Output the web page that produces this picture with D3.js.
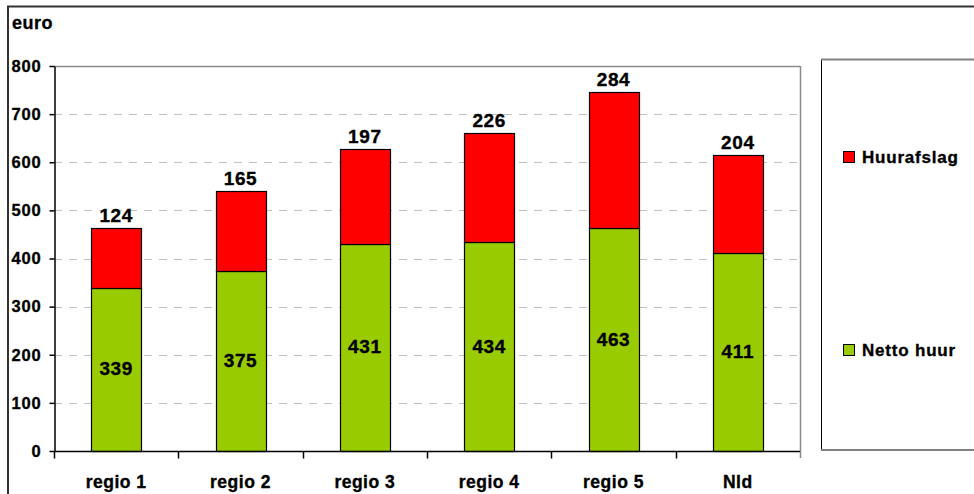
<!DOCTYPE html>
<html><head><meta charset="utf-8">
<script src="https://cdn.jsdelivr.net/npm/d3@7"></script>
<style>
body{margin:0;background:#fff;}
svg{display:block;font-family:"Liberation Sans",Arial,sans-serif;font-weight:bold;}
svg text{stroke:#000;stroke-width:0.35px;fill:#000;}
</style></head>
<body><svg id="c" width="974" height="494"></svg>
<script>
const categories = ["regio 1","regio 2","regio 3","regio 4","regio 5","Nld"];
const nettoHuur = [339,375,431,434,463,411];
const huurafslag = [124,165,197,226,284,204];
const yTicks = [0,100,200,300,400,500,600,700,800];
const seriesNames = ["Huurafslag","Netto huur"];
const colors = {"Netto huur":"#99CC00","Huurafslag":"#FF0000"};

const svg = d3.select("#c");
const L=54, R=800, T=66, B=451;
const x = d3.scaleBand().domain(categories).range([L,R]).paddingInner(0).paddingOuter(0);
const y = d3.scaleLinear().domain([0,800]).range([B,T]);

// outer border
svg.append("rect").attr("x",8).attr("y",6.5).attr("width",980).attr("height",500)
  .attr("fill","none").attr("stroke","#333").attr("stroke-width",2);

// gridlines
svg.append("g").selectAll("line").data(yTicks.filter(d=>d>0 && d<800)).join("line")
  .attr("x1",L).attr("x2",R).attr("y1",d=>Math.round(y(d))+0.5).attr("y2",d=>Math.round(y(d))+0.5)
  .attr("stroke","#c0c0c0").attr("stroke-dasharray","8,7");
// top & right plot border
svg.append("line").attr("x1",L).attr("x2",R).attr("y1",T+0.5).attr("y2",T+0.5).attr("stroke","#8a8a8a").attr("stroke-width",1.5);
svg.append("line").attr("x1",R+0.5).attr("x2",R+0.5).attr("y1",T).attr("y2",B+7).attr("stroke","#8a8a8a").attr("stroke-width",1.5);

// stacked bars
const stackData = categories.map((c,i)=>({cat:c,"Netto huur":nettoHuur[i],"Huurafslag":huurafslag[i]}));
const stack = d3.stack().keys(["Netto huur","Huurafslag"])(stackData);
const bw = x.bandwidth()*0.4;
const g = svg.append("g");
stack.forEach(layer=>{
  g.selectAll(null).data(layer).join("rect")
    .attr("x",d=>Math.round(x(d.data.cat)+x.bandwidth()/2-bw/2)+0.5)
    .attr("y",d=>Math.round(y(d[1]))+0.5)
    .attr("width",Math.round(bw))
    .attr("height",d=>Math.round(y(d[0]))-Math.round(y(d[1])))
    .attr("fill",colors[layer.key]).attr("stroke","#000").attr("stroke-width",1.2);
});

// value labels
g.selectAll(null).data(stack[0]).join("text")
  .attr("x",d=>x(d.data.cat)+x.bandwidth()/2)
  .attr("y",d=>(y(d[0])+y(d[1]))/2+6)
  .attr("text-anchor","middle").attr("font-size",19).attr("letter-spacing",0.6)
  .text(d=>d.data["Netto huur"]);
g.selectAll(null).data(stack[1]).join("text")
  .attr("x",d=>x(d.data.cat)+x.bandwidth()/2)
  .attr("y",d=>y(d[1])-6)
  .attr("text-anchor","middle").attr("font-size",19).attr("letter-spacing",0.6)
  .text(d=>d.data["Huurafslag"]);

// y axis
const ya = svg.append("g").attr("transform",`translate(${L+0.5},0)`)
  .call(d3.axisLeft(y).tickValues(yTicks).tickSize(5).tickPadding(8).tickSizeOuter(0));
ya.select(".domain").attr("stroke","#000").attr("stroke-width",1.5);
ya.selectAll(".tick line").attr("stroke","#000").attr("stroke-width",1.5);
ya.selectAll("text").attr("font-size",16.5).attr("letter-spacing",0.8).attr("fill","#000")
  .attr("font-family","Liberation Sans, Arial").attr("font-weight","bold");

// x axis
const xa = svg.append("g").attr("transform",`translate(0,${B+0.5})`);
xa.append("line").attr("x1",L).attr("x2",R).attr("stroke","#000").attr("stroke-width",1.5);
xa.selectAll(null).data(categories).join("line")
  .attr("x1",d=>Math.round(x(d))+0.5).attr("x2",d=>Math.round(x(d))+0.5).attr("y1",0).attr("y2",7)
  .attr("stroke","#000").attr("stroke-width",1.5);
xa.selectAll(null).data(categories).join("text")
  .attr("x",d=>x(d)+x.bandwidth()/2).attr("y",36)
  .attr("text-anchor","middle").attr("font-size",17.5).attr("letter-spacing",0.5)
  .text(d=>d);

// axis title
svg.append("text").attr("x",12).attr("y",29).attr("font-size",18).attr("letter-spacing",0.5).text("euro");

// legend
svg.append("rect").attr("x",821.5).attr("y",59.5).attr("width",170).attr("height",390)
  .attr("fill","#fff").attr("stroke","#000").attr("stroke-width",1);
svg.append("line").attr("x1",821).attr("x2",980).attr("y1",59.5).attr("y2",59.5).attr("stroke","#808080").attr("stroke-width",2);
svg.append("line").attr("x1",821).attr("x2",980).attr("y1",450).attr("y2",450).attr("stroke","#808080").attr("stroke-width",2);
const legY = {"Huurafslag":157,"Netto huur":350};
const lg = svg.append("g").selectAll("g").data(seriesNames).join("g")
  .attr("transform",d=>`translate(843,${legY[d]})`);
lg.append("rect").attr("x",0.5).attr("y",-5.5).attr("width",11).attr("height",11)
  .attr("fill",d=>colors[d]).attr("stroke","#000").attr("stroke-width",1);
lg.append("text").attr("x",19).attr("y",6).attr("font-size",17).attr("letter-spacing",0.8).text(d=>d);
</script></body></html>
